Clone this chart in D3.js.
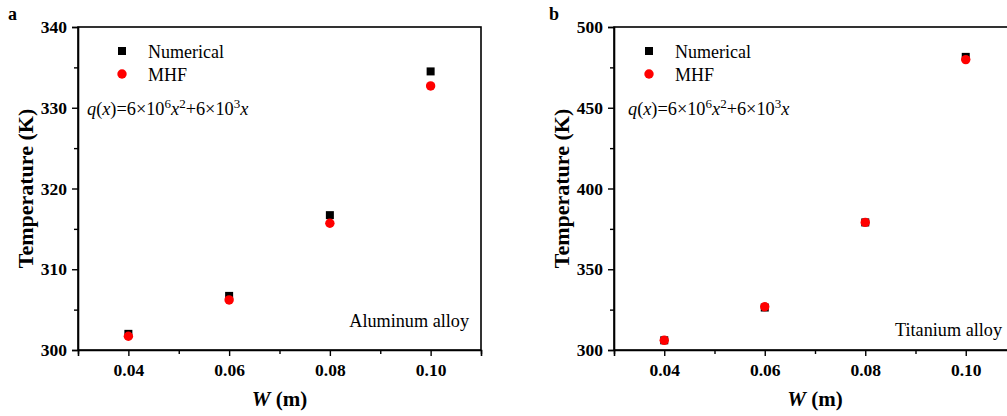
<!DOCTYPE html>
<html><head><meta charset="utf-8">
<script src="https://cdn.jsdelivr.net/npm/d3@7"></script>
<style>
html,body{margin:0;padding:0;background:#fff;}
svg text{font-family:'Liberation Serif','Times New Roman',Tinos,'DejaVu Serif',serif;}
</style></head>
<body><svg id="c" width="1007" height="416"></svg>
<script>
const wValues = [0.04, 0.06, 0.08, 0.10];
const alNumerical = [302.0, 306.7, 316.7, 334.5];
const alMHF = [301.7, 306.2, 315.7, 332.7];
const tiNumerical = [306.0, 326.3, 379.0, 481.5];
const tiMHF = [306.0, 326.8, 379.0, 479.8];
const xTicks = [0.04, 0.06, 0.08, 0.10];
const xMinorTicks = [0.03, 0.05, 0.07, 0.09, 0.11];
const alYTicks = [300, 310, 320, 330, 340];
const alYMinor = [305, 315, 325, 335];
const tiYTicks = [300, 350, 400, 450, 500];
const tiYMinor = [325, 375, 425, 475];
const seriesNames = ["Numerical", "MHF"];

const FONT = "'Liberation Serif','Times New Roman',Tinos,'DejaVu Serif',serif";
const svg = d3.select("#c");

function panel(cfg) {
  const x = d3.scaleLinear().domain([0.03, 0.11]).range([cfg.x0, cfg.x1]);
  const y = d3.scaleLinear().domain(cfg.yDomain).range([cfg.y1, cfg.y0]);
  const g = svg.append("g");

  g.append("rect").attr("x", cfg.x0).attr("y", cfg.y0)
    .attr("width", cfg.x1 - cfg.x0).attr("height", cfg.y1 - cfg.y0)
    .attr("fill", "none").attr("stroke", "#000").attr("stroke-width", 1.6);

  g.append("g").attr("transform", `translate(0,${cfg.y1})`)
    .call(d3.axisBottom(x).tickValues(xTicks).tickFormat(d3.format(".2f")).tickSize(6).tickPadding(8));
  g.append("g").attr("transform", `translate(0,${cfg.y1})`)
    .call(d3.axisBottom(x).tickValues(xMinorTicks).tickFormat("").tickSize(4))
    .select(".domain").remove();
  g.append("g").attr("transform", `translate(${cfg.x0},0)`)
    .call(d3.axisLeft(y).tickValues(cfg.yTicks).tickFormat(d3.format("d")).tickSize(6).tickPadding(5));
  g.append("g").attr("transform", `translate(${cfg.x0},0)`)
    .call(d3.axisLeft(y).tickValues(cfg.yMinor).tickFormat("").tickSize(4))
    .select(".domain").remove();

  g.selectAll("g").attr("font-family", FONT);
  g.selectAll(".domain").attr("stroke-width", 1.6);
  g.selectAll(".tick line").attr("stroke-width", 1.4);
  g.selectAll(".tick text").attr("font-family", FONT)
    .attr("font-weight", "bold").attr("font-size", 17.5).attr("fill", "#000");

  g.selectAll("rect.num").data(wValues).join("rect").attr("class", "num")
    .attr("x", (d) => x(d) - 4).attr("y", (d, i) => y(cfg.num[i]) - 4)
    .attr("width", 8).attr("height", 8).attr("fill", "#000");
  g.selectAll("circle.mhf").data(wValues).join("circle").attr("class", "mhf")
    .attr("cx", (d) => x(d)).attr("cy", (d, i) => y(cfg.mhf[i]))
    .attr("r", 4.7).attr("fill", "#ff0000");

  g.append("rect").attr("x", cfg.legX - 4).attr("y", 51 - 4).attr("width", 8).attr("height", 8).attr("fill", "#000");
  g.append("circle").attr("cx", cfg.legX).attr("cy", 74).attr("r", 4.7).attr("fill", "#ff0000");
  g.append("text").attr("x", cfg.legX + 26).attr("y", 57.5).attr("font-size", 18).attr("font-family", FONT).text(seriesNames[0]);
  g.append("text").attr("x", cfg.legX + 26).attr("y", 80.5).attr("font-size", 18).attr("font-family", FONT).text(seriesNames[1]);

  const f = g.append("text").attr("x", cfg.fX).attr("y", 115).attr("font-size", 18.3).attr("font-family", FONT);
  f.append("tspan").attr("font-style", "italic").text("q");
  f.append("tspan").text("(");
  f.append("tspan").attr("font-style", "italic").text("x");
  f.append("tspan").text(")=6×10");
  f.append("tspan").attr("font-size", 13).attr("dy", -7).text("6");
  f.append("tspan").attr("font-style", "italic").attr("dy", 7).text("x");
  f.append("tspan").attr("font-size", 13).attr("dy", -7).text("2");
  f.append("tspan").attr("dy", 7).text("+6×10");
  f.append("tspan").attr("font-size", 13).attr("dy", -7).text("3");
  f.append("tspan").attr("font-style", "italic").attr("dy", 7).text("x");

  g.append("text").attr("x", cfg.matX).attr("y", cfg.matY).attr("text-anchor", "end")
    .attr("font-size", 18.2).attr("font-family", FONT).text(cfg.material);

  g.append("text").attr("transform", `translate(${cfg.x0 - 45},${(cfg.y0 + cfg.y1) / 2}) rotate(-90)`)
    .attr("text-anchor", "middle").attr("font-weight", "bold").attr("font-size", 22).attr("font-family", FONT)
    .text("Temperature (K)");
  const xt = g.append("text").attr("x", (cfg.x0 + cfg.x1) / 2).attr("y", 406)
    .attr("text-anchor", "middle").attr("font-weight", "bold").attr("font-size", 21).attr("font-family", FONT);
  xt.append("tspan").attr("font-style", "italic").text("W");
  xt.append("tspan").text(" (m)");

  g.append("text").attr("x", cfg.labX).attr("y", 20).attr("font-weight", "bold")
    .attr("font-size", 18).attr("font-family", FONT).text(cfg.label);
}

panel({x0: 78, x1: 481, y0: 27, y1: 350, yDomain: [300, 340], yTicks: alYTicks, yMinor: alYMinor,
  num: alNumerical, mhf: alMHF, legX: 122, fX: 87, matX: 469, matY: 327, material: "Aluminum alloy",
  labX: 8, label: "a"});
panel({x0: 614, x1: 1016, y0: 27, y1: 350, yDomain: [300, 500], yTicks: tiYTicks, yMinor: tiYMinor,
  num: tiNumerical, mhf: tiMHF, legX: 649, fX: 628, matX: 1002, matY: 336, material: "Titanium alloy",
  labX: 549, label: "b"});
</script></body></html>
